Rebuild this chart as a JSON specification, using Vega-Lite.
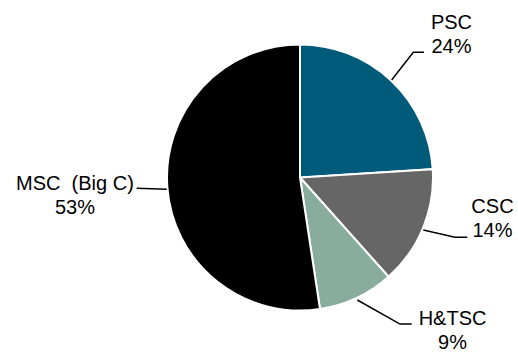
{
  "$schema": "https://vega.github.io/schema/vega-lite/v6.json",
  "width": 436,
  "height": 349,
  "autosize": {"type": "none"},
  "padding": {"left": 82, "top": 3, "right": 0, "bottom": 0},
  "background": "white",
  "config": {"view": {"stroke": null}, "font": "Liberation Sans"},
  "datasets": {
    "shares": [
      {"segment": "PSC", "share": 24.0, "rank": 1},
      {"segment": "CSC", "share": 14.4, "rank": 2},
      {"segment": "H&TSC", "share": 9.2, "rank": 3},
      {"segment": "MSC (Big C)", "share": 52.4, "rank": 4}
    ],
    "leaders": [
      {"segment": "PSC", "step": 1, "x": 68.9, "y": 73.3},
      {"segment": "PSC", "step": 2, "x": 85.2, "y": 94.1},
      {"segment": "PSC", "step": 3, "x": 93.2, "y": 94.1},
      {"segment": "CSC", "step": 1, "x": 92.7, "y": -39.5},
      {"segment": "CSC", "step": 2, "x": 116.5, "y": -45.0},
      {"segment": "CSC", "step": 3, "x": 125.8, "y": -45.0},
      {"segment": "H&TSC", "step": 1, "x": 43.1, "y": -92.1},
      {"segment": "H&TSC", "step": 2, "x": 75.2, "y": -110.2},
      {"segment": "H&TSC", "step": 3, "x": 84.0, "y": -110.2},
      {"segment": "MSC (Big C)", "step": 1, "x": -122.8, "y": -8.1},
      {"segment": "MSC (Big C)", "step": 2, "x": -100.2, "y": -8.9}
    ],
    "labels": [
      {"segment": "PSC", "name": "PSC", "pct": "24%", "x": 113.9, "y": 111.7},
      {"segment": "CSC", "name": "CSC", "pct": "14%", "x": 144.7, "y": -26.7},
      {"segment": "H&TSC", "name": "H&TSC", "pct": "9%", "x": 114.7, "y": -110.9},
      {"segment": "MSC (Big C)", "name": "MSC \u00a0(Big C)", "pct": "53%", "x": -169.2, "y": -9.4}
    ]
  },
  "layer": [
    {
      "data": {"name": "shares"},
      "mark": {"type": "arc", "outerRadius": 133, "stroke": "white", "strokeWidth": 2},
      "encoding": {
        "theta": {"field": "share", "type": "quantitative", "stack": true},
        "order": {"field": "rank", "type": "quantitative"},
        "color": {
          "field": "segment",
          "type": "nominal",
          "scale": {
            "domain": ["PSC", "CSC", "H&TSC", "MSC (Big C)"],
            "range": ["#005b7a", "#666666", "#89ad9d", "#000000"]
          },
          "legend": null
        }
      }
    },
    {
      "data": {"name": "leaders"},
      "mark": {"type": "line", "color": "black", "strokeWidth": 1.5},
      "encoding": {
        "x": {"field": "x", "type": "quantitative", "scale": {"domain": [-163.9, 163.9], "nice": false, "zero": false}, "axis": null},
        "y": {"field": "y", "type": "quantitative", "scale": {"domain": [-131.2, 131.2], "nice": false, "zero": false}, "axis": null},
        "detail": {"field": "segment", "type": "nominal"},
        "order": {"field": "step", "type": "quantitative"}
      }
    },
    {
      "data": {"name": "labels"},
      "mark": {"type": "text", "fontSize": 20, "align": "center", "baseline": "alphabetic", "color": "black"},
      "encoding": {
        "x": {"field": "x", "type": "quantitative", "scale": {"domain": [-163.9, 163.9], "nice": false, "zero": false}, "axis": null},
        "y": {"field": "y", "type": "quantitative", "scale": {"domain": [-131.2, 131.2], "nice": false, "zero": false}, "axis": null},
        "text": {"field": "name", "type": "nominal"}
      }
    },
    {
      "data": {"name": "labels"},
      "mark": {"type": "text", "fontSize": 20, "align": "center", "baseline": "alphabetic", "color": "black", "dy": 24},
      "encoding": {
        "x": {"field": "x", "type": "quantitative", "scale": {"domain": [-163.9, 163.9], "nice": false, "zero": false}, "axis": null},
        "y": {"field": "y", "type": "quantitative", "scale": {"domain": [-131.2, 131.2], "nice": false, "zero": false}, "axis": null},
        "text": {"field": "pct", "type": "nominal"}
      }
    }
  ]
}
